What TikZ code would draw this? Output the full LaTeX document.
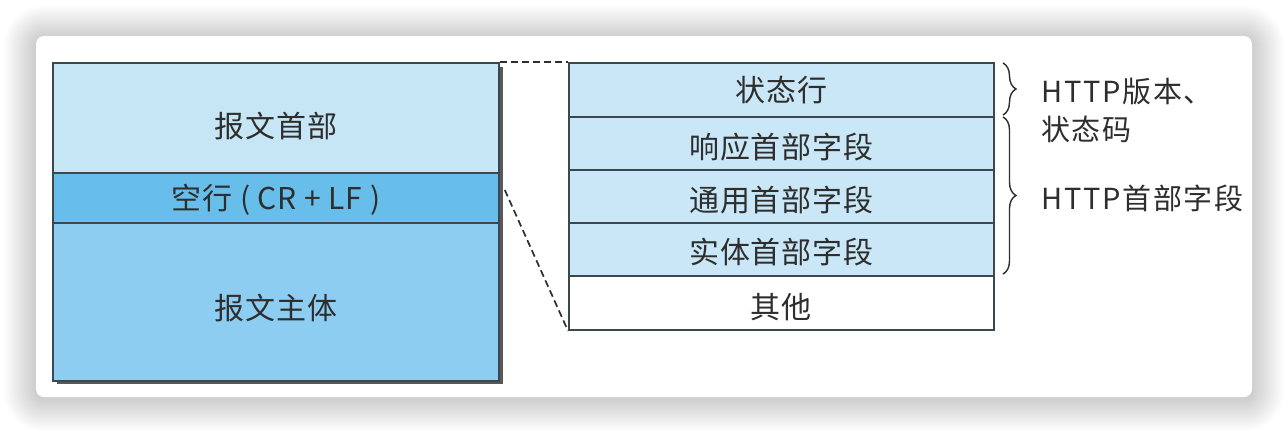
\documentclass[tikz,border=0pt]{standalone}
\usepackage{fontspec}
\setmainfont{Noto Sans CJK SC}
\usetikzlibrary{decorations.pathreplacing,calc}

\definecolor{hdrblue}{HTML}{C6E6F6}
\definecolor{crlfblue}{HTML}{68BEEA}
\definecolor{bodyblue}{HTML}{8DCDF1}
\definecolor{rowblue}{HTML}{C9E7F6}
\definecolor{edge}{HTML}{3C4850}
\definecolor{ink}{HTML}{2E2E2E}

\tikzset{
  cell/.style={draw=edge, line width=1.8pt, inner sep=0pt, anchor=north west},
  fieldrow/.style={cell, fill=rowblue, minimum width=425pt, minimum height=53pt},
  celltext/.style={text=ink, inner sep=0pt,
    font=\fontsize{30}{34}\selectfont\addfontfeatures{LetterSpace=3}},
  guide/.style={draw=ink, line width=1.7pt, dash pattern=on 7pt off 4pt},
  bracket/.style={draw=ink, line width=1.4pt,
    decorate, decoration={brace, amplitude=13pt}},
  note/.style={text=ink, font=\fontsize{29}{32}\selectfont\addfontfeatures{LetterSpace=6},
    anchor=west, inner sep=0pt}
}

\begin{document}
\begin{tikzpicture}[x=1pt, y=-1pt]
  \useasboundingbox (0,0) rectangle (1288,434);
  \fill[white] (0,0) rectangle (1288,434);

  % soft drop shadow of the card
  \foreach \r in {1,...,16} {
    \fill[black, opacity=0.013, rounded corners=8pt+\r*2pt]
      (36-\r*2, 38-\r*2) rectangle (1252+\r*2, 399+\r*2);
  }
  % card
  \fill[white, rounded corners=8pt] (36,36) rectangle (1252,397);

  % message: shadow, then its three parts
  \fill[black!65] (57,67) rectangle (503,384);
  \node[cell, fill=hdrblue,  minimum width=446pt, minimum height=110pt] (head) at (52,62)  {};
  \node[cell, fill=crlfblue, minimum width=446pt, minimum height=50pt]  (crlf) at (52,172) {};
  \node[cell, fill=bodyblue, minimum width=446pt, minimum height=158pt] (body) at (52,222) {};
  \node[celltext] (headtxt) at ($(head.center)+(0,8)$) {报文首部};
  \node[celltext] (crlftxt) at ($(crlf.center)+(0,2)$) {空行 ( CR + LF )};
  \node[celltext] (bodytxt) at ($(body.center)+(0,6)$) {报文主体};

  % the header, broken into its fields
  \node[fieldrow, minimum height=54pt] (status) at (568,62)  {};
  \node[fieldrow] (resp)   at (568,116) {};
  \node[fieldrow] (gen)    at (568,169) {};
  \node[fieldrow] (ent)    at (568,222) {};
  \node[cell, fill=white, minimum width=425pt, minimum height=54pt] (other) at (568,275) {};
  \node[celltext] (statustxt) at ($(status.center)+(0,0)$) {状态行};
  \node[celltext] (resptxt)   at ($(resp.center)+(0,4)$)   {响应首部字段};
  \node[celltext] (gentxt)    at ($(gen.center)+(0,4)$)    {通用首部字段};
  \node[celltext] (enttxt)    at ($(ent.center)+(0,3)$)    {实体首部字段};
  \node[celltext] (othertxt)  at ($(other.center)+(0,4)$)  {其他};

  % guides from the header to its expansion
  \coordinate (crlfpt) at ($(crlf.north east)+(5,18)$);
  \draw[guide] (head.north east) -- (status.north west);
  \draw[guide] (crlfpt) -- (other.south west);

  % braces and their notes
  \draw[bracket] (1003,63) -- (1003,115);
  \draw[bracket] (1003,117) -- (1003,274);
  \node[note] (verA) at (1041,92)  {HTTP版本、};
  \node[note] (verB) at (1041,129) {状态码};
  \node[note] (hdrs) at (1041,198) {HTTP首部字段};
\end{tikzpicture}
\end{document}
